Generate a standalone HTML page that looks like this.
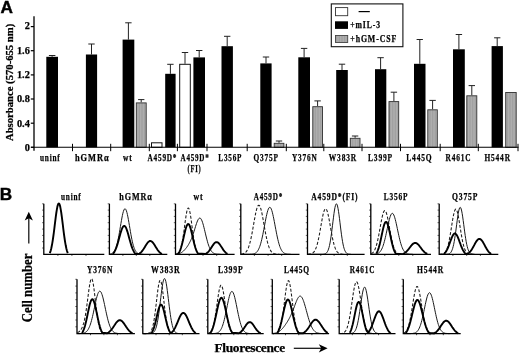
<!DOCTYPE html>
<html><head><meta charset="utf-8"><title>Figure</title>
<style>
html,body{margin:0;padding:0;background:#fff;}
body{width:520px;height:354px;overflow:hidden;}
svg{display:block;}
.s{font-family:"Liberation Serif",serif;font-weight:bold;fill:#000;stroke:#000;stroke-width:0.25px;}
.ls{letter-spacing:1.1px;}
.pl{font-family:"Liberation Sans",sans-serif;font-weight:bold;fill:#000;}
</style></head><body>
<svg width="520" height="354" viewBox="0 0 520 354">
<defs><pattern id="hatch" width="1.6" height="4" patternUnits="userSpaceOnUse"><rect width="1.6" height="4" fill="#b0b0b0"/><rect width="0.6" height="4" fill="#9a9a9a"/></pattern></defs>
<rect width="520" height="354" fill="#fff"/>
<text x="0.6" y="13.2" class="pl" font-size="17.2" stroke="#000" stroke-width="0.45">A</text>
<text x="-0.3" y="199.9" class="pl" font-size="17.2" stroke="#000" stroke-width="0.4">B</text>
<path d="M52.1 56.8V55.5M48.9 55.5H55.4" stroke="#222" stroke-width="1" fill="none"/>
<rect x="46.3" y="56.8" width="11.7" height="90.5" fill="#000"/>
<path d="M91.5 54.5V44.0M88.3 44.0H94.7" stroke="#222" stroke-width="1" fill="none"/>
<rect x="85.9" y="54.5" width="11.2" height="92.8" fill="#000"/>
<path d="M128.4 39.6V22.8M125.2 22.8H131.6" stroke="#222" stroke-width="1" fill="none"/>
<rect x="122.6" y="39.6" width="11.7" height="107.7" fill="#000"/>
<path d="M141.2 102.4V99.6M138.1 99.6H144.4" stroke="#222" stroke-width="1" fill="none"/>
<rect x="136.3" y="102.9" width="9.9" height="44.4" fill="url(#hatch)" stroke="#303030" stroke-width="0.9"/>
<rect x="151.5" y="142.8" width="10.5" height="4.5" fill="#fff" stroke="#111" stroke-width="1"/>
<path d="M170.4 73.8V64.3M167.2 64.3H173.6" stroke="#222" stroke-width="1" fill="none"/>
<rect x="165.2" y="73.8" width="10.4" height="73.5" fill="#000"/>
<path d="M185.0 63.8V52.5M181.8 52.5H188.2" stroke="#222" stroke-width="1" fill="none"/>
<rect x="179.7" y="64.3" width="10.6" height="83.0" fill="#fff" stroke="#111" stroke-width="1"/>
<path d="M199.2 57.4V50.5M196.0 50.5H202.4" stroke="#222" stroke-width="1" fill="none"/>
<rect x="193.4" y="57.4" width="11.6" height="89.9" fill="#000"/>
<path d="M227.2 46.2V36.3M224.0 36.3H230.4" stroke="#222" stroke-width="1" fill="none"/>
<rect x="221.5" y="46.2" width="11.4" height="101.1" fill="#000"/>
<path d="M266.0 63.4V57.0M262.8 57.0H269.2" stroke="#222" stroke-width="1" fill="none"/>
<rect x="260.3" y="63.4" width="11.3" height="83.9" fill="#000"/>
<path d="M279.0 142.8V141.0M275.8 141.0H282.2" stroke="#222" stroke-width="1" fill="none"/>
<rect x="274.2" y="143.3" width="9.7" height="4.0" fill="url(#hatch)" stroke="#303030" stroke-width="0.9"/>
<path d="M304.1 57.3V48.4M300.9 48.4H307.3" stroke="#222" stroke-width="1" fill="none"/>
<rect x="298.3" y="57.3" width="11.7" height="90.0" fill="#000"/>
<path d="M317.6 106.2V100.9M314.4 100.9H320.8" stroke="#222" stroke-width="1" fill="none"/>
<rect x="312.8" y="106.7" width="9.7" height="40.6" fill="url(#hatch)" stroke="#303030" stroke-width="0.9"/>
<path d="M342.0 70.0V64.2M338.8 64.2H345.2" stroke="#222" stroke-width="1" fill="none"/>
<rect x="336.2" y="70.0" width="11.6" height="77.3" fill="#000"/>
<path d="M355.1 137.8V136.0M351.9 136.0H358.3" stroke="#222" stroke-width="1" fill="none"/>
<rect x="350.3" y="138.3" width="9.7" height="9.0" fill="url(#hatch)" stroke="#303030" stroke-width="0.9"/>
<path d="M380.6 69.2V57.7M377.4 57.7H383.8" stroke="#222" stroke-width="1" fill="none"/>
<rect x="375.0" y="69.2" width="11.3" height="78.1" fill="#000"/>
<path d="M393.9 101.1V92.2M390.7 92.2H397.1" stroke="#222" stroke-width="1" fill="none"/>
<rect x="389.0" y="101.6" width="9.7" height="45.7" fill="url(#hatch)" stroke="#303030" stroke-width="0.9"/>
<path d="M419.8 63.8V39.5M416.6 39.5H422.9" stroke="#222" stroke-width="1" fill="none"/>
<rect x="414.0" y="63.8" width="11.5" height="83.5" fill="#000"/>
<path d="M432.6 109.3V100.4M429.4 100.4H435.8" stroke="#222" stroke-width="1" fill="none"/>
<rect x="427.8" y="109.8" width="9.5" height="37.5" fill="url(#hatch)" stroke="#303030" stroke-width="0.9"/>
<path d="M458.9 49.3V34.5M455.7 34.5H462.1" stroke="#222" stroke-width="1" fill="none"/>
<rect x="453.0" y="49.3" width="11.8" height="98.0" fill="#000"/>
<path d="M471.8 95.3V85.6M468.6 85.6H475.0" stroke="#222" stroke-width="1" fill="none"/>
<rect x="466.8" y="95.8" width="10.0" height="51.5" fill="url(#hatch)" stroke="#303030" stroke-width="0.9"/>
<path d="M497.2 46.1V37.8M494.1 37.8H500.4" stroke="#222" stroke-width="1" fill="none"/>
<rect x="491.6" y="46.1" width="11.3" height="101.2" fill="#000"/>
<rect x="505.7" y="92.5" width="10.5" height="54.8" fill="url(#hatch)" stroke="#303030" stroke-width="0.9"/>
<path d="M34.0 16.2V150.70000000000002" stroke="#222" stroke-width="1.5" fill="none"/><path d="M31.0 147.3H518.5" stroke="#000" stroke-width="1.05" fill="none"/>
<path d="M30.8 147.3H34.0" stroke="#000" stroke-width="1.2"/>
<text x="29.8" y="151.1" class="s" font-size="10.3" text-anchor="end">0</text>
<path d="M30.8 123.2H34.0" stroke="#000" stroke-width="1.2"/>
<text x="29.8" y="126.8" class="s" font-size="10.3" text-anchor="end">0.4</text>
<path d="M30.8 99.0H34.0" stroke="#000" stroke-width="1.2"/>
<text x="29.8" y="102.4" class="s" font-size="10.3" text-anchor="end">0.8</text>
<path d="M30.8 74.9H34.0" stroke="#000" stroke-width="1.2"/>
<text x="29.8" y="78.0" class="s" font-size="10.3" text-anchor="end">1.2</text>
<path d="M30.8 50.7H34.0" stroke="#000" stroke-width="1.2"/>
<text x="29.8" y="53.6" class="s" font-size="10.3" text-anchor="end">1.6</text>
<path d="M30.8 26.6H34.0" stroke="#000" stroke-width="1.2"/>
<text x="29.8" y="29.2" class="s" font-size="10.3" text-anchor="end">2</text>
<path d="M72.5 143.8V151.20000000000002" stroke="#000" stroke-width="1.0"/>
<path d="M110.7 143.8V151.20000000000002" stroke="#000" stroke-width="1.0"/>
<path d="M149.3 143.8V151.20000000000002" stroke="#000" stroke-width="1.0"/>
<path d="M177.4 143.8V151.20000000000002" stroke="#000" stroke-width="1.0"/>
<path d="M207.0 143.8V151.20000000000002" stroke="#000" stroke-width="1.0"/>
<path d="M247.2 143.8V151.20000000000002" stroke="#000" stroke-width="1.0"/>
<path d="M286.3 143.8V151.20000000000002" stroke="#000" stroke-width="1.0"/>
<path d="M323.8 143.8V151.20000000000002" stroke="#000" stroke-width="1.0"/>
<path d="M362.0 143.8V151.20000000000002" stroke="#000" stroke-width="1.0"/>
<path d="M400.5 143.8V151.20000000000002" stroke="#000" stroke-width="1.0"/>
<path d="M440.2 143.8V151.20000000000002" stroke="#000" stroke-width="1.0"/>
<path d="M478.3 143.8V151.20000000000002" stroke="#000" stroke-width="1.0"/>
<path d="M518.0 143.8V151.20000000000002" stroke="#000" stroke-width="1.0"/>
<text x="40" y="161.0" class="s ls" font-size="10" textLength="20.6" lengthAdjust="spacingAndGlyphs">uninf</text>
<text x="75" y="161.0" class="s ls" font-size="10" textLength="34.5" lengthAdjust="spacingAndGlyphs">hGMRα</text>
<text x="123" y="161.0" class="s ls" font-size="10" textLength="9.5" lengthAdjust="spacingAndGlyphs">wt</text>
<text x="147.5" y="161.3" class="s ls" font-size="10" textLength="29.8" lengthAdjust="spacingAndGlyphs">A459D*</text>
<text x="180.5" y="160.7" class="s ls" font-size="10" textLength="29.0" lengthAdjust="spacingAndGlyphs">A459D*</text>
<text x="187.5" y="171.8" class="s ls" font-size="10" textLength="13.8" lengthAdjust="spacingAndGlyphs">(FI)</text>
<text x="218.3" y="161.0" class="s ls" font-size="10" textLength="24.0" lengthAdjust="spacingAndGlyphs">L356P</text>
<text x="253.5" y="161.0" class="s ls" font-size="10" textLength="25.3" lengthAdjust="spacingAndGlyphs">Q375P</text>
<text x="292" y="161.0" class="s ls" font-size="10" textLength="25.5" lengthAdjust="spacingAndGlyphs">Y376N</text>
<text x="328.8" y="161.0" class="s ls" font-size="10" textLength="28.2" lengthAdjust="spacingAndGlyphs">W383R</text>
<text x="368" y="161.0" class="s ls" font-size="10" textLength="25.0" lengthAdjust="spacingAndGlyphs">L399P</text>
<text x="406.3" y="161.0" class="s ls" font-size="10" textLength="26.2" lengthAdjust="spacingAndGlyphs">L445Q</text>
<text x="445.5" y="161.0" class="s ls" font-size="10" textLength="25.8" lengthAdjust="spacingAndGlyphs">R461C</text>
<text x="484.5" y="161.0" class="s ls" font-size="10" textLength="26.3" lengthAdjust="spacingAndGlyphs">H544R</text>
<text transform="translate(13.2 141.0) rotate(-90)" class="s" font-size="10.9" textLength="117.2" lengthAdjust="spacingAndGlyphs">Absorbance (570-655 nm)</text>
<rect x="331.3" y="3.9" width="71.6" height="42.8" fill="#fff" stroke="#111" stroke-width="1.1"/>
<rect x="335.5" y="7.6" width="12.2" height="8.1" fill="#fff" stroke="#333" stroke-width="0.9"/>
<rect x="335" y="21.3" width="13" height="7.6" fill="#000"/>
<rect x="335.5" y="35.5" width="12.2" height="7" fill="url(#hatch)" stroke="#444" stroke-width="0.9"/>
<path d="M358.6 11.6H369.8" stroke="#000" stroke-width="1.2"/>
<text x="350.3" y="28.1" class="s ls" font-size="9.8" textLength="30.6" lengthAdjust="spacingAndGlyphs">+mIL-3</text>
<text x="350.3" y="41.9" class="s ls" font-size="9.8" textLength="46.8" lengthAdjust="spacingAndGlyphs">+hGM-CSF</text>
<path d="M43.8 248.0h-1.7" stroke="#000" stroke-width="0.6"/>
<path d="M43.8 241.7h-1.7" stroke="#000" stroke-width="0.6"/>
<path d="M43.8 235.4h-1.7" stroke="#000" stroke-width="0.6"/>
<path d="M43.8 229.1h-1.7" stroke="#000" stroke-width="0.6"/>
<path d="M43.8 222.7h-1.7" stroke="#000" stroke-width="0.6"/>
<path d="M43.8 216.4h-1.7" stroke="#000" stroke-width="0.6"/>
<path d="M43.8 210.1h-1.7" stroke="#000" stroke-width="0.6"/>
<path d="M43.8 203.8h-1.7" stroke="#000" stroke-width="0.6"/>
<path d="M57.9 254.3v1.6" stroke="#000" stroke-width="0.7"/>
<path d="M71.9 254.3v1.6" stroke="#000" stroke-width="0.7"/>
<path d="M86.0 254.3v1.6" stroke="#000" stroke-width="0.7"/>
<path d="M49.8 253.2 L50.3 251.9 L50.8 250.2 L51.3 248.2 L51.8 245.8 L52.3 243.1 L52.8 240.0 L53.3 236.5 L53.8 232.8 L54.3 228.8 L54.8 224.7 L55.3 220.6 L55.8 216.7 L56.3 213.0 L56.8 209.8 L57.3 207.1 L57.8 205.1 L58.3 203.8 L58.8 203.4 L59.3 203.8 L59.8 205.1 L60.3 207.1 L60.8 209.8 L61.3 213.0 L61.8 216.7 L62.3 220.6 L62.8 224.7 L63.3 228.8 L63.8 232.8 L64.3 236.5 L64.8 240.0 L65.3 243.1 L65.8 245.8 L66.3 248.2 L66.8 250.2 L67.3 251.9 L67.8 253.2" stroke="#000" stroke-width="1.9" fill="none" stroke-linejoin="round"/>
<path d="M43.8 203.8V254.3H104.3" stroke="#000" stroke-width="1.3" fill="none" stroke-linejoin="miter"/>
<text x="61.0" y="199.7" class="s ls" font-size="10" textLength="20.5" lengthAdjust="spacingAndGlyphs">uninf</text>
<path d="M109.4 248.0h-1.7" stroke="#000" stroke-width="0.6"/>
<path d="M109.4 241.7h-1.7" stroke="#000" stroke-width="0.6"/>
<path d="M109.4 235.4h-1.7" stroke="#000" stroke-width="0.6"/>
<path d="M109.4 229.1h-1.7" stroke="#000" stroke-width="0.6"/>
<path d="M109.4 222.7h-1.7" stroke="#000" stroke-width="0.6"/>
<path d="M109.4 216.4h-1.7" stroke="#000" stroke-width="0.6"/>
<path d="M109.4 210.1h-1.7" stroke="#000" stroke-width="0.6"/>
<path d="M109.4 203.8h-1.7" stroke="#000" stroke-width="0.6"/>
<path d="M122.9 254.3v1.6" stroke="#000" stroke-width="0.7"/>
<path d="M136.3 254.3v1.6" stroke="#000" stroke-width="0.7"/>
<path d="M149.8 254.3v1.6" stroke="#000" stroke-width="0.7"/>
<path d="M109.9 254.1 L110.4 254.0 L110.9 253.9 L111.4 253.7 L111.9 253.5 L112.4 253.2 L112.9 252.9 L113.4 252.4 L113.9 251.8 L114.4 251.1 L114.9 250.2 L115.4 249.1 L115.9 247.9 L116.4 246.4 L116.9 244.6 L117.4 242.7 L117.9 240.4 L118.4 238.0 L118.9 235.4 L119.4 232.6 L119.9 229.6 L120.4 226.6 L120.9 223.6 L121.4 220.7 L121.9 218.0 L122.4 215.4 L122.9 213.2 L123.4 211.4 L123.9 210.0 L124.4 209.1 L124.9 208.7 L125.4 208.9 L125.9 209.6 L126.4 210.8 L126.9 212.4 L127.4 214.5 L127.9 216.9 L128.4 219.6 L128.9 222.5 L129.4 225.4 L129.9 228.4 L130.4 231.4 L130.9 234.3 L131.4 237.0 L131.9 239.5 L132.4 241.8 L132.9 243.9 L133.4 245.7 L133.9 247.3 L134.4 248.6 L134.9 249.8 L135.4 250.8 L135.9 251.5 L136.4 252.2 L136.9 252.7 L137.4 253.1 L137.9 253.4 L138.4 253.6 L138.9 253.8 L139.4 254.0 L139.9 254.1 L140.4 254.1 L140.9 254.2 L141.4 254.2 L141.9 254.2 L142.4 254.3 L142.9 254.3 L143.4 254.3" stroke="#1a1a1a" stroke-width="1.0" fill="none"/>
<path d="M112.9 253.9 L113.4 253.3 L113.9 252.6 L114.4 251.9 L114.9 250.9 L115.4 249.9 L115.9 248.7 L116.4 247.4 L116.9 245.9 L117.4 244.4 L117.9 242.7 L118.4 240.9 L118.9 239.1 L119.4 237.2 L119.9 235.4 L120.4 233.6 L120.9 231.9 L121.4 230.4 L121.9 229.0 L122.4 227.8 L122.9 226.9 L123.4 226.3 L123.9 226.0 L124.4 225.9 L124.9 226.2 L125.4 226.8 L125.9 227.6 L126.4 228.7 L126.9 230.1 L127.4 231.6 L127.9 233.3 L128.4 235.0 L128.9 236.9 L129.4 238.7 L129.9 240.5 L130.4 242.3 L130.9 244.0 L131.4 245.6 L131.9 247.1 L132.4 248.5 L132.9 249.7 L133.4 250.7 L133.9 251.7 L134.4 252.5 L134.9 253.2 L135.4 253.8 L138.9 253.9 L139.4 253.6 L139.9 253.2 L140.4 252.8 L140.9 252.4 L141.4 251.9 L141.9 251.3 L142.4 250.7 L142.9 250.0 L143.4 249.3 L143.9 248.5 L144.4 247.7 L144.9 246.9 L145.4 246.1 L145.9 245.3 L146.4 244.5 L146.9 243.7 L147.4 243.0 L147.9 242.4 L148.4 241.9 L148.9 241.5 L149.4 241.2 L149.9 241.0 L150.4 241.0 L150.9 241.1 L151.4 241.3 L151.9 241.7 L152.4 242.1 L152.9 242.7 L153.4 243.3 L153.9 244.0 L154.4 244.8 L154.9 245.6 L155.4 246.4 L155.9 247.2 L156.4 248.0 L156.9 248.8 L157.4 249.6 L157.9 250.3 L158.4 250.9 L158.9 251.5 L159.4 252.1 L159.9 252.6 L160.4 253.0 L160.9 253.4 L161.4 253.7 L161.9 254.0" stroke="#000" stroke-width="1.9" fill="none" stroke-linejoin="round"/>
<path d="M109.4 203.8V254.3H167.3" stroke="#000" stroke-width="1.3" fill="none" stroke-linejoin="miter"/>
<text x="119.3" y="199.7" class="s ls" font-size="10" textLength="33.5" lengthAdjust="spacingAndGlyphs">hGMRα</text>
<path d="M175.5 248.0h-1.7" stroke="#000" stroke-width="0.6"/>
<path d="M175.5 241.7h-1.7" stroke="#000" stroke-width="0.6"/>
<path d="M175.5 235.4h-1.7" stroke="#000" stroke-width="0.6"/>
<path d="M175.5 229.1h-1.7" stroke="#000" stroke-width="0.6"/>
<path d="M175.5 222.7h-1.7" stroke="#000" stroke-width="0.6"/>
<path d="M175.5 216.4h-1.7" stroke="#000" stroke-width="0.6"/>
<path d="M175.5 210.1h-1.7" stroke="#000" stroke-width="0.6"/>
<path d="M175.5 203.8h-1.7" stroke="#000" stroke-width="0.6"/>
<path d="M189.2 254.3v1.6" stroke="#000" stroke-width="0.7"/>
<path d="M203.0 254.3v1.6" stroke="#000" stroke-width="0.7"/>
<path d="M216.7 254.3v1.6" stroke="#000" stroke-width="0.7"/>
<path d="M176.0 254.1 L176.5 254.0 L177.0 253.9 L177.5 253.6 L178.0 253.3 L178.5 252.9 L179.0 252.3 L179.5 251.6 L180.0 250.6 L180.5 249.3 L181.0 247.7 L181.5 245.7 L182.0 243.4 L182.5 240.7 L183.0 237.7 L183.5 234.3 L184.0 230.7 L184.5 226.9 L185.0 223.1 L185.5 219.5 L186.0 216.1 L186.5 213.1 L187.0 210.7 L187.5 209.0 L188.0 208.1 L188.5 208.0 L189.0 208.7 L189.5 210.3 L190.0 212.5 L190.5 215.4 L191.0 218.7 L191.5 222.4 L192.0 226.2 L192.5 229.9 L193.0 233.6 L193.5 237.0 L194.0 240.1 L194.5 242.9 L195.0 245.3 L195.5 247.3 L196.0 249.0 L196.5 250.3 L197.0 251.4 L197.5 252.2 L198.0 252.8 L198.5 253.3 L199.0 253.6 L199.5 253.8 L200.0 254.0 L200.5 254.1 L201.0 254.2 L201.5 254.2 L202.0 254.3 L202.5 254.3 L203.0 254.3" stroke="#1a1a1a" stroke-width="1.05" stroke-dasharray="3 1.8" fill="none"/>
<path d="M176.0 254.1 L176.5 254.1 L177.0 254.0 L177.5 254.0 L178.0 253.9 L178.5 253.8 L179.0 253.6 L179.5 253.5 L180.0 253.3 L180.5 253.1 L181.0 252.8 L181.5 252.5 L182.0 252.2 L182.5 251.8 L183.0 251.4 L183.5 251.0 L184.0 250.5 L184.5 250.0 L185.0 249.4 L185.5 248.8 L186.0 248.2 L186.5 247.6 L187.0 246.9 L187.5 246.1 L188.0 245.4 L188.5 244.6 L189.0 243.7 L189.5 242.8 L190.0 241.8 L190.5 240.8 L191.0 239.7 L191.5 238.5 L192.0 237.3 L192.5 235.9 L193.0 234.5 L193.5 233.0 L194.0 231.5 L194.5 229.9 L195.0 228.2 L195.5 226.6 L196.0 225.0 L196.5 223.5 L197.0 222.1 L197.5 220.9 L198.0 219.8 L198.5 219.0 L199.0 218.4 L199.5 218.1 L200.0 218.1 L200.5 218.3 L201.0 218.9 L201.5 219.8 L202.0 220.9 L202.5 222.3 L203.0 223.9 L203.5 225.7 L204.0 227.7 L204.5 229.7 L205.0 231.8 L205.5 233.9 L206.0 236.0 L206.5 238.0 L207.0 239.9 L207.5 241.8 L208.0 243.5 L208.5 245.0 L209.0 246.4 L209.5 247.7 L210.0 248.8 L210.5 249.8 L211.0 250.6 L211.5 251.3 L212.0 251.9 L212.5 252.4 L213.0 252.8 L213.5 253.1 L214.0 253.4 L214.5 253.6 L215.0 253.8 L215.5 253.9 L216.0 254.0 L216.5 254.1 L217.0 254.1 L217.5 254.2 L218.0 254.2 L218.5 254.2 L219.0 254.3 L219.5 254.3 L220.0 254.3 L220.5 254.3" stroke="#1a1a1a" stroke-width="1.0" fill="none"/>
<path d="M178.0 254.0 L178.5 253.4 L179.0 252.6 L179.5 251.7 L180.0 250.6 L180.5 249.3 L181.0 247.8 L181.5 246.1 L182.0 244.3 L182.5 242.3 L183.0 240.2 L183.5 238.0 L184.0 235.8 L184.5 233.6 L185.0 231.5 L185.5 229.5 L186.0 227.8 L186.5 226.3 L187.0 225.2 L187.5 224.4 L188.0 224.0 L188.5 224.1 L189.0 224.5 L189.5 225.4 L190.0 226.6 L190.5 228.1 L191.0 229.9 L191.5 231.9 L192.0 234.0 L192.5 236.2 L193.0 238.5 L193.5 240.6 L194.0 242.7 L194.5 244.7 L195.0 246.5 L195.5 248.1 L196.0 249.5 L196.5 250.8 L197.0 251.9 L197.5 252.8 L198.0 253.5 L205.5 254.0 L206.0 253.7 L206.5 253.4 L207.0 253.0 L207.5 252.6 L208.0 252.1 L208.5 251.6 L209.0 251.0 L209.5 250.3 L210.0 249.6 L210.5 248.9 L211.0 248.1 L211.5 247.4 L212.0 246.6 L212.5 245.8 L213.0 245.1 L213.5 244.4 L214.0 243.7 L214.5 243.2 L215.0 242.7 L215.5 242.4 L216.0 242.2 L216.5 242.1 L217.0 242.1 L217.5 242.3 L218.0 242.6 L218.5 243.0 L219.0 243.5 L219.5 244.1 L220.0 244.8 L220.5 245.5 L221.0 246.3 L221.5 247.0 L222.0 247.8 L222.5 248.6 L223.0 249.4 L223.5 250.1 L224.0 250.7 L224.5 251.4 L225.0 251.9 L225.5 252.4 L226.0 252.9 L226.5 253.3 L227.0 253.6 L227.5 253.9" stroke="#000" stroke-width="1.9" fill="none" stroke-linejoin="round"/>
<path d="M175.5 203.8V254.3H234.6" stroke="#000" stroke-width="1.3" fill="none" stroke-linejoin="miter"/>
<text x="193.5" y="199.7" class="s ls" font-size="10" textLength="10.0" lengthAdjust="spacingAndGlyphs">wt</text>
<path d="M240.8 248.0h-1.7" stroke="#000" stroke-width="0.6"/>
<path d="M240.8 241.7h-1.7" stroke="#000" stroke-width="0.6"/>
<path d="M240.8 235.4h-1.7" stroke="#000" stroke-width="0.6"/>
<path d="M240.8 229.1h-1.7" stroke="#000" stroke-width="0.6"/>
<path d="M240.8 222.7h-1.7" stroke="#000" stroke-width="0.6"/>
<path d="M240.8 216.4h-1.7" stroke="#000" stroke-width="0.6"/>
<path d="M240.8 210.1h-1.7" stroke="#000" stroke-width="0.6"/>
<path d="M240.8 203.8h-1.7" stroke="#000" stroke-width="0.6"/>
<path d="M254.4 254.3v1.6" stroke="#000" stroke-width="0.7"/>
<path d="M268.1 254.3v1.6" stroke="#000" stroke-width="0.7"/>
<path d="M281.7 254.3v1.6" stroke="#000" stroke-width="0.7"/>
<path d="M241.3 254.1 L241.8 254.1 L242.3 254.0 L242.8 253.9 L243.3 253.7 L243.8 253.5 L244.3 253.3 L244.8 253.0 L245.3 252.6 L245.8 252.1 L246.3 251.6 L246.8 250.9 L247.3 250.0 L247.8 249.1 L248.3 247.9 L248.8 246.6 L249.3 245.0 L249.8 243.3 L250.3 241.4 L250.8 239.3 L251.3 236.9 L251.8 234.5 L252.3 231.8 L252.8 229.1 L253.3 226.2 L253.8 223.4 L254.3 220.5 L254.8 217.8 L255.3 215.2 L255.8 212.7 L256.3 210.6 L256.8 208.7 L257.3 207.2 L257.8 206.1 L258.3 205.4 L258.8 205.2 L259.3 205.4 L259.8 206.1 L260.3 207.2 L260.8 208.7 L261.3 210.6 L261.8 212.7 L262.3 215.2 L262.8 217.8 L263.3 220.5 L263.8 223.4 L264.3 226.2 L264.8 229.1 L265.3 231.8 L265.8 234.5 L266.3 236.9 L266.8 239.3 L267.3 241.4 L267.8 243.3 L268.3 245.0 L268.8 246.6 L269.3 247.9 L269.8 249.1 L270.3 250.0 L270.8 250.9 L271.3 251.6 L271.8 252.1 L272.3 252.6 L272.8 253.0 L273.3 253.3 L273.8 253.5 L274.3 253.7 L274.8 253.9 L275.3 254.0 L275.8 254.1 L276.3 254.1 L276.8 254.2 L277.3 254.2 L277.8 254.2 L278.3 254.3 L278.8 254.3 L279.3 254.3" stroke="#1a1a1a" stroke-width="1.05" stroke-dasharray="3 1.8" fill="none"/>
<path d="M241.3 254.3 L241.8 254.3 L242.3 254.3 L242.8 254.3 L243.3 254.3 L243.8 254.3 L244.3 254.3 L244.8 254.3 L245.3 254.3 L245.8 254.3 L246.3 254.3 L246.8 254.3 L247.3 254.3 L247.8 254.3 L248.3 254.3 L248.8 254.3 L249.3 254.3 L249.8 254.3 L250.3 254.2 L250.8 254.2 L251.3 254.2 L251.8 254.2 L252.3 254.1 L252.8 254.0 L253.3 253.9 L253.8 253.8 L254.3 253.6 L254.8 253.4 L255.3 253.2 L255.8 252.9 L256.3 252.5 L256.8 252.0 L257.3 251.4 L257.8 250.7 L258.3 249.8 L258.8 248.8 L259.3 247.7 L259.8 246.4 L260.3 244.9 L260.8 243.2 L261.3 241.3 L261.8 239.3 L262.3 237.0 L262.8 234.7 L263.3 232.1 L263.8 229.5 L264.3 226.9 L264.8 224.2 L265.3 221.5 L265.8 218.9 L266.3 216.5 L266.8 214.3 L267.3 212.2 L267.8 210.5 L268.3 209.1 L268.8 208.1 L269.3 207.5 L269.8 207.3 L270.3 207.5 L270.8 208.1 L271.3 209.1 L271.8 210.5 L272.3 212.2 L272.8 214.3 L273.3 216.5 L273.8 218.9 L274.3 221.5 L274.8 224.2 L275.3 226.9 L275.8 229.5 L276.3 232.1 L276.8 234.7 L277.3 237.0 L277.8 239.3 L278.3 241.3 L278.8 243.2 L279.3 244.9 L279.8 246.4 L280.3 247.7 L280.8 248.8 L281.3 249.8 L281.8 250.7 L282.3 251.4 L282.8 252.0 L283.3 252.5 L283.8 252.9 L284.3 253.2 L284.8 253.4 L285.3 253.6 L285.8 253.8 L286.3 253.9 L286.8 254.0 L287.3 254.1 L287.8 254.2 L288.3 254.2 L288.8 254.2 L289.3 254.2 L289.8 254.3 L290.3 254.3 L290.8 254.3" stroke="#1a1a1a" stroke-width="1.0" fill="none"/>
<path d="M240.8 203.8V254.3H299.5" stroke="#000" stroke-width="1.3" fill="none" stroke-linejoin="miter"/>
<text x="253.7" y="199.7" class="s ls" font-size="10" textLength="29.3" lengthAdjust="spacingAndGlyphs">A459D*</text>
<path d="M307.5 248.0h-1.7" stroke="#000" stroke-width="0.6"/>
<path d="M307.5 241.7h-1.7" stroke="#000" stroke-width="0.6"/>
<path d="M307.5 235.4h-1.7" stroke="#000" stroke-width="0.6"/>
<path d="M307.5 229.1h-1.7" stroke="#000" stroke-width="0.6"/>
<path d="M307.5 222.7h-1.7" stroke="#000" stroke-width="0.6"/>
<path d="M307.5 216.4h-1.7" stroke="#000" stroke-width="0.6"/>
<path d="M307.5 210.1h-1.7" stroke="#000" stroke-width="0.6"/>
<path d="M307.5 203.8h-1.7" stroke="#000" stroke-width="0.6"/>
<path d="M320.8 254.3v1.6" stroke="#000" stroke-width="0.7"/>
<path d="M334.1 254.3v1.6" stroke="#000" stroke-width="0.7"/>
<path d="M347.3 254.3v1.6" stroke="#000" stroke-width="0.7"/>
<path d="M308.0 254.2 L308.5 254.2 L309.0 254.2 L309.5 254.1 L310.0 254.1 L310.5 254.0 L311.0 253.9 L311.5 253.7 L312.0 253.5 L312.5 253.2 L313.0 252.8 L313.5 252.4 L314.0 251.8 L314.5 251.2 L315.0 250.3 L315.5 249.3 L316.0 248.1 L316.5 246.7 L317.0 245.1 L317.5 243.3 L318.0 241.3 L318.5 239.0 L319.0 236.6 L319.5 234.0 L320.0 231.2 L320.5 228.4 L321.0 225.5 L321.5 222.6 L322.0 219.9 L322.5 217.3 L323.0 214.9 L323.5 212.9 L324.0 211.2 L324.5 209.9 L325.0 209.1 L325.5 208.7 L326.0 208.9 L326.5 209.5 L327.0 210.6 L327.5 212.1 L328.0 214.1 L328.5 216.3 L329.0 218.8 L329.5 221.5 L330.0 224.3 L330.5 227.2 L331.0 230.1 L331.5 232.9 L332.0 235.6 L332.5 238.1 L333.0 240.4 L333.5 242.5 L334.0 244.4 L334.5 246.1 L335.0 247.6 L335.5 248.9 L336.0 249.9 L336.5 250.8 L337.0 251.6 L337.5 252.2 L338.0 252.7 L338.5 253.1 L339.0 253.4 L339.5 253.6 L340.0 253.8 L340.5 253.9 L341.0 254.0 L341.5 254.1 L342.0 254.2 L342.5 254.2 L343.0 254.2 L343.5 254.3 L344.0 254.3 L344.5 254.3" stroke="#1a1a1a" stroke-width="1.05" stroke-dasharray="3 1.8" fill="none"/>
<path d="M308.0 254.3 L308.5 254.3 L309.0 254.3 L309.5 254.3 L310.0 254.3 L310.5 254.3 L311.0 254.3 L311.5 254.3 L312.0 254.3 L312.5 254.3 L313.0 254.3 L313.5 254.3 L314.0 254.3 L314.5 254.3 L315.0 254.3 L315.5 254.3 L316.0 254.3 L316.5 254.3 L317.0 254.3 L317.5 254.3 L318.0 254.3 L318.5 254.3 L319.0 254.3 L319.5 254.3 L320.0 254.3 L320.5 254.3 L321.0 254.3 L321.5 254.3 L322.0 254.3 L322.5 254.3 L323.0 254.2 L323.5 254.2 L324.0 254.1 L324.5 254.0 L325.0 253.9 L325.5 253.6 L326.0 253.3 L326.5 252.9 L327.0 252.3 L327.5 251.5 L328.0 250.5 L328.5 249.1 L329.0 247.5 L329.5 245.4 L330.0 243.0 L330.5 240.1 L331.0 236.9 L331.5 233.3 L332.0 229.4 L332.5 225.3 L333.0 221.2 L333.5 217.2 L334.0 213.4 L334.5 210.0 L335.0 207.3 L335.5 205.3 L336.0 204.1 L336.5 203.8 L337.0 204.5 L337.5 206.0 L338.0 208.3 L338.5 211.3 L339.0 214.8 L339.5 218.7 L340.0 222.8 L340.5 227.0 L341.0 231.0 L341.5 234.8 L342.0 238.2 L342.5 241.3 L343.0 244.0 L343.5 246.3 L344.0 248.2 L344.5 249.7 L345.0 250.9 L345.5 251.8 L346.0 252.6 L346.5 253.1 L347.0 253.5 L347.5 253.7 L348.0 253.9 L348.5 254.1 L349.0 254.1 L349.5 254.2 L350.0 254.2 L350.5 254.3 L351.0 254.3" stroke="#1a1a1a" stroke-width="1.0" fill="none"/>
<path d="M307.5 203.8V254.3H364.6" stroke="#000" stroke-width="1.3" fill="none" stroke-linejoin="miter"/>
<text x="311.2" y="199.7" class="s ls" font-size="10" textLength="47.2" lengthAdjust="spacingAndGlyphs">A459D*(FI)</text>
<path d="M370.8 248.0h-1.7" stroke="#000" stroke-width="0.6"/>
<path d="M370.8 241.7h-1.7" stroke="#000" stroke-width="0.6"/>
<path d="M370.8 235.4h-1.7" stroke="#000" stroke-width="0.6"/>
<path d="M370.8 229.1h-1.7" stroke="#000" stroke-width="0.6"/>
<path d="M370.8 222.7h-1.7" stroke="#000" stroke-width="0.6"/>
<path d="M370.8 216.4h-1.7" stroke="#000" stroke-width="0.6"/>
<path d="M370.8 210.1h-1.7" stroke="#000" stroke-width="0.6"/>
<path d="M370.8 203.8h-1.7" stroke="#000" stroke-width="0.6"/>
<path d="M384.8 254.3v1.6" stroke="#000" stroke-width="0.7"/>
<path d="M398.8 254.3v1.6" stroke="#000" stroke-width="0.7"/>
<path d="M412.8 254.3v1.6" stroke="#000" stroke-width="0.7"/>
<path d="M371.3 253.6 L371.8 253.3 L372.3 253.0 L372.8 252.6 L373.3 252.1 L373.8 251.5 L374.3 250.7 L374.8 249.8 L375.3 248.6 L375.8 247.3 L376.3 245.8 L376.8 244.0 L377.3 242.1 L377.8 239.9 L378.3 237.5 L378.8 235.0 L379.3 232.3 L379.8 229.5 L380.3 226.7 L380.8 223.9 L381.3 221.2 L381.8 218.7 L382.3 216.4 L382.8 214.4 L383.3 212.8 L383.8 211.6 L384.3 210.8 L384.8 210.6 L385.3 210.8 L385.8 211.6 L386.3 212.8 L386.8 214.4 L387.3 216.4 L387.8 218.7 L388.3 221.2 L388.8 223.9 L389.3 226.7 L389.8 229.5 L390.3 232.3 L390.8 235.0 L391.3 237.5 L391.8 239.9 L392.3 242.1 L392.8 244.0 L393.3 245.8 L393.8 247.3 L394.3 248.6 L394.8 249.8 L395.3 250.7 L395.8 251.5 L396.3 252.1 L396.8 252.6 L397.3 253.0 L397.8 253.3 L398.3 253.6 L398.8 253.8 L399.3 253.9 L399.8 254.0 L400.3 254.1 L400.8 254.2 L401.3 254.2 L401.8 254.2 L402.3 254.3 L402.8 254.3 L403.3 254.3" stroke="#1a1a1a" stroke-width="1.05" stroke-dasharray="3 1.8" fill="none"/>
<path d="M371.3 254.3 L371.8 254.3 L372.3 254.3 L372.8 254.3 L373.3 254.2 L373.8 254.2 L374.3 254.2 L374.8 254.2 L375.3 254.1 L375.8 254.0 L376.3 253.9 L376.8 253.8 L377.3 253.7 L377.8 253.5 L378.3 253.2 L378.8 252.9 L379.3 252.5 L379.8 252.0 L380.3 251.4 L380.8 250.7 L381.3 249.9 L381.8 249.0 L382.3 247.8 L382.8 246.6 L383.3 245.1 L383.8 243.5 L384.3 241.7 L384.8 239.8 L385.3 237.7 L385.8 235.5 L386.3 233.2 L386.8 230.9 L387.3 228.5 L387.8 226.1 L388.3 223.8 L388.8 221.6 L389.3 219.6 L389.8 217.8 L390.3 216.2 L390.8 215.0 L391.3 214.1 L391.8 213.5 L392.3 213.3 L392.8 213.5 L393.3 214.1 L393.8 215.0 L394.3 216.2 L394.8 217.8 L395.3 219.6 L395.8 221.6 L396.3 223.8 L396.8 226.1 L397.3 228.5 L397.8 230.9 L398.3 233.2 L398.8 235.5 L399.3 237.7 L399.8 239.8 L400.3 241.7 L400.8 243.5 L401.3 245.1 L401.8 246.6 L402.3 247.8 L402.8 249.0 L403.3 249.9 L403.8 250.7 L404.3 251.4 L404.8 252.0 L405.3 252.5 L405.8 252.9 L406.3 253.2 L406.8 253.5 L407.3 253.7 L407.8 253.8 L408.3 253.9 L408.8 254.0 L409.3 254.1 L409.8 254.2 L410.3 254.2 L410.8 254.2 L411.3 254.2 L411.8 254.3 L412.3 254.3 L412.8 254.3" stroke="#1a1a1a" stroke-width="1.0" fill="none"/>
<path d="M376.3 253.5 L376.8 252.7 L377.3 251.7 L377.8 250.5 L378.3 249.2 L378.8 247.6 L379.3 245.8 L379.8 243.9 L380.3 241.8 L380.8 239.5 L381.3 237.1 L381.8 234.7 L382.3 232.4 L382.8 230.1 L383.3 227.9 L383.8 226.0 L384.3 224.4 L384.8 223.2 L385.3 222.3 L385.8 221.9 L386.3 222.0 L386.8 222.5 L387.3 223.4 L387.8 224.7 L388.3 226.4 L388.8 228.3 L389.3 230.5 L389.8 232.8 L390.3 235.2 L390.8 237.6 L391.3 240.0 L391.8 242.2 L392.3 244.3 L392.8 246.2 L393.3 247.9 L393.8 249.5 L394.3 250.8 L394.8 251.9 L395.3 252.9 L395.8 253.6 L402.8 254.1 L403.3 253.9 L403.8 253.6 L404.3 253.3 L404.8 253.0 L405.3 252.6 L405.8 252.2 L406.3 251.8 L406.8 251.2 L407.3 250.7 L407.8 250.1 L408.3 249.5 L408.8 248.9 L409.3 248.2 L409.8 247.5 L410.3 246.9 L410.8 246.2 L411.3 245.6 L411.8 245.0 L412.3 244.5 L412.8 244.0 L413.3 243.6 L413.8 243.3 L414.3 243.1 L414.8 242.9 L415.3 242.9 L415.8 243.0 L416.3 243.1 L416.8 243.4 L417.3 243.8 L417.8 244.2 L418.3 244.7 L418.8 245.2 L419.3 245.8 L419.8 246.5 L420.3 247.1 L420.8 247.8 L421.3 248.5 L421.8 249.1 L422.3 249.8 L422.8 250.4 L423.3 250.9 L423.8 251.5 L424.3 251.9 L424.8 252.4 L425.3 252.8 L425.8 253.1 L426.3 253.4 L426.8 253.7 L427.3 253.9" stroke="#000" stroke-width="1.9" fill="none" stroke-linejoin="round"/>
<path d="M370.8 203.8V254.3H431.0" stroke="#000" stroke-width="1.3" fill="none" stroke-linejoin="miter"/>
<text x="383.7" y="199.7" class="s ls" font-size="10" textLength="24.6" lengthAdjust="spacingAndGlyphs">L356P</text>
<path d="M439.2 248.0h-1.7" stroke="#000" stroke-width="0.6"/>
<path d="M439.2 241.7h-1.7" stroke="#000" stroke-width="0.6"/>
<path d="M439.2 235.4h-1.7" stroke="#000" stroke-width="0.6"/>
<path d="M439.2 229.1h-1.7" stroke="#000" stroke-width="0.6"/>
<path d="M439.2 222.7h-1.7" stroke="#000" stroke-width="0.6"/>
<path d="M439.2 216.4h-1.7" stroke="#000" stroke-width="0.6"/>
<path d="M439.2 210.1h-1.7" stroke="#000" stroke-width="0.6"/>
<path d="M439.2 203.8h-1.7" stroke="#000" stroke-width="0.6"/>
<path d="M452.9 254.3v1.6" stroke="#000" stroke-width="0.7"/>
<path d="M466.7 254.3v1.6" stroke="#000" stroke-width="0.7"/>
<path d="M480.4 254.3v1.6" stroke="#000" stroke-width="0.7"/>
<path d="M439.7 254.3 L440.2 254.2 L440.7 254.2 L441.2 254.2 L441.7 254.1 L442.2 254.0 L442.7 253.9 L443.2 253.7 L443.7 253.4 L444.2 253.1 L444.7 252.7 L445.2 252.1 L445.7 251.4 L446.2 250.6 L446.7 249.5 L447.2 248.2 L447.7 246.7 L448.2 244.8 L448.7 242.8 L449.2 240.4 L449.7 237.8 L450.2 235.0 L450.7 232.0 L451.2 228.9 L451.7 225.7 L452.2 222.5 L452.7 219.5 L453.2 216.7 L453.7 214.3 L454.2 212.2 L454.7 210.7 L455.2 209.6 L455.7 209.2 L456.2 209.4 L456.7 210.2 L457.2 211.5 L457.7 213.4 L458.2 215.7 L458.7 218.4 L459.2 221.3 L459.7 224.4 L460.2 227.6 L460.7 230.7 L461.2 233.8 L461.7 236.7 L462.2 239.4 L462.7 241.9 L463.2 244.0 L463.7 246.0 L464.2 247.6 L464.7 249.0 L465.2 250.2 L465.7 251.1 L466.2 251.9 L466.7 252.5 L467.2 253.0 L467.7 253.3 L468.2 253.6 L468.7 253.8 L469.2 253.9 L469.7 254.1 L470.2 254.1 L470.7 254.2 L471.2 254.2 L471.7 254.3 L472.2 254.3 L472.7 254.3" stroke="#1a1a1a" stroke-width="1.05" stroke-dasharray="3 1.8" fill="none"/>
<path d="M439.7 254.3 L440.2 254.3 L440.7 254.3 L441.2 254.3 L441.7 254.3 L442.2 254.3 L442.7 254.3 L443.2 254.3 L443.7 254.3 L444.2 254.3 L444.7 254.3 L445.2 254.3 L445.7 254.3 L446.2 254.3 L446.7 254.2 L447.2 254.2 L447.7 254.1 L448.2 254.1 L448.7 253.9 L449.2 253.7 L449.7 253.5 L450.2 253.1 L450.7 252.6 L451.2 251.9 L451.7 250.9 L452.2 249.8 L452.7 248.3 L453.2 246.4 L453.7 244.3 L454.2 241.7 L454.7 238.7 L455.2 235.4 L455.7 231.9 L456.2 228.1 L456.7 224.3 L457.2 220.5 L457.7 216.9 L458.2 213.7 L458.7 211.0 L459.2 209.0 L459.7 207.7 L460.2 207.3 L460.7 207.7 L461.2 209.0 L461.7 211.0 L462.2 213.7 L462.7 216.9 L463.2 220.5 L463.7 224.3 L464.2 228.1 L464.7 231.9 L465.2 235.4 L465.7 238.7 L466.2 241.7 L466.7 244.3 L467.2 246.4 L467.7 248.3 L468.2 249.8 L468.7 250.9 L469.2 251.9 L469.7 252.6 L470.2 253.1 L470.7 253.5 L471.2 253.7 L471.7 253.9 L472.2 254.1 L472.7 254.1 L473.2 254.2 L473.7 254.2 L474.2 254.3 L474.7 254.3" stroke="#1a1a1a" stroke-width="1.0" fill="none"/>
<path d="M443.7 254.1 L444.2 253.7 L444.7 253.2 L445.2 252.6 L445.7 252.0 L446.2 251.2 L446.7 250.3 L447.2 249.4 L447.7 248.3 L448.2 247.1 L448.7 245.9 L449.2 244.5 L449.7 243.2 L450.2 241.8 L450.7 240.4 L451.2 239.1 L451.7 237.8 L452.2 236.7 L452.7 235.7 L453.2 234.8 L453.7 234.2 L454.2 233.7 L454.7 233.5 L455.2 233.5 L455.7 233.8 L456.2 234.3 L456.7 235.0 L457.2 235.9 L457.7 236.9 L458.2 238.1 L458.7 239.3 L459.2 240.7 L459.7 242.1 L460.2 243.4 L460.7 244.8 L461.2 246.1 L461.7 247.3 L462.2 248.5 L462.7 249.6 L463.2 250.5 L463.7 251.4 L464.2 252.1 L464.7 252.8 L465.2 253.3 L465.7 253.8 L467.7 253.9 L468.2 253.5 L468.7 253.1 L469.2 252.7 L469.7 252.2 L470.2 251.7 L470.7 251.0 L471.2 250.3 L471.7 249.6 L472.2 248.8 L472.7 247.9 L473.2 247.0 L473.7 246.1 L474.2 245.2 L474.7 244.2 L475.2 243.3 L475.7 242.4 L476.2 241.6 L476.7 240.9 L477.2 240.3 L477.7 239.7 L478.2 239.3 L478.7 239.0 L479.2 238.9 L479.7 238.9 L480.2 239.1 L480.7 239.4 L481.2 239.8 L481.7 240.4 L482.2 241.0 L482.7 241.8 L483.2 242.6 L483.7 243.5 L484.2 244.4 L484.7 245.3 L485.2 246.3 L485.7 247.2 L486.2 248.1 L486.7 248.9 L487.2 249.7 L487.7 250.5 L488.2 251.2 L488.7 251.8 L489.2 252.3 L489.7 252.8 L490.2 253.2 L490.7 253.6 L491.2 253.9" stroke="#000" stroke-width="1.9" fill="none" stroke-linejoin="round"/>
<path d="M439.2 203.8V254.3H498.3" stroke="#000" stroke-width="1.3" fill="none" stroke-linejoin="miter"/>
<text x="452.0" y="199.7" class="s ls" font-size="10" textLength="26.3" lengthAdjust="spacingAndGlyphs">Q375P</text>
<path d="M77.0 326.8h-1.7" stroke="#000" stroke-width="0.6"/>
<path d="M77.0 320.0h-1.7" stroke="#000" stroke-width="0.6"/>
<path d="M77.0 313.2h-1.7" stroke="#000" stroke-width="0.6"/>
<path d="M77.0 306.5h-1.7" stroke="#000" stroke-width="0.6"/>
<path d="M77.0 299.7h-1.7" stroke="#000" stroke-width="0.6"/>
<path d="M77.0 292.9h-1.7" stroke="#000" stroke-width="0.6"/>
<path d="M77.0 286.1h-1.7" stroke="#000" stroke-width="0.6"/>
<path d="M77.0 279.3h-1.7" stroke="#000" stroke-width="0.6"/>
<path d="M90.5 333.6v1.6" stroke="#000" stroke-width="0.7"/>
<path d="M103.9 333.6v1.6" stroke="#000" stroke-width="0.7"/>
<path d="M117.4 333.6v1.6" stroke="#000" stroke-width="0.7"/>
<path d="M77.5 332.7 L78.0 332.4 L78.5 332.1 L79.0 331.8 L79.5 331.3 L80.0 330.8 L80.5 330.2 L81.0 329.5 L81.5 328.7 L82.0 327.7 L82.5 326.6 L83.0 325.3 L83.5 323.7 L84.0 321.9 L84.5 319.8 L85.0 317.3 L85.5 314.6 L86.0 311.5 L86.5 308.1 L87.0 304.5 L87.5 300.6 L88.0 296.7 L88.5 292.8 L89.0 289.1 L89.5 285.7 L90.0 282.9 L90.5 280.6 L91.0 279.2 L91.5 278.7 L92.0 279.0 L92.5 280.3 L93.0 282.5 L93.5 285.4 L94.0 289.0 L94.5 293.0 L95.0 297.3 L95.5 301.8 L96.0 306.2 L96.5 310.4 L97.0 314.3 L97.5 317.9 L98.0 321.0 L98.5 323.7 L99.0 325.9 L99.5 327.8 L100.0 329.2 L100.5 330.4 L101.0 331.3 L101.5 332.0 L102.0 332.4 L102.5 332.8 L103.0 333.1 L103.5 333.2 L104.0 333.4 L104.5 333.4 L105.0 333.5 L105.5 333.5 L106.0 333.6" stroke="#1a1a1a" stroke-width="1.05" stroke-dasharray="3 1.8" fill="none"/>
<path d="M77.5 333.6 L78.0 333.6 L78.5 333.6 L79.0 333.6 L79.5 333.6 L80.0 333.5 L80.5 333.5 L81.0 333.5 L81.5 333.5 L82.0 333.4 L82.5 333.3 L83.0 333.3 L83.5 333.2 L84.0 333.0 L84.5 332.8 L85.0 332.6 L85.5 332.3 L86.0 332.0 L86.5 331.6 L87.0 331.0 L87.5 330.4 L88.0 329.7 L88.5 328.8 L89.0 327.8 L89.5 326.7 L90.0 325.4 L90.5 324.0 L91.0 322.3 L91.5 320.6 L92.0 318.6 L92.5 316.6 L93.0 314.4 L93.5 312.1 L94.0 309.7 L94.5 307.3 L95.0 305.0 L95.5 302.6 L96.0 300.4 L96.5 298.3 L97.0 296.4 L97.5 294.8 L98.0 293.4 L98.5 292.3 L99.0 291.6 L99.5 291.2 L100.0 291.1 L100.5 291.5 L101.0 292.1 L101.5 293.2 L102.0 294.5 L102.5 296.1 L103.0 297.9 L103.5 300.0 L104.0 302.2 L104.5 304.5 L105.0 306.9 L105.5 309.3 L106.0 311.6 L106.5 313.9 L107.0 316.1 L107.5 318.2 L108.0 320.2 L108.5 322.0 L109.0 323.6 L109.5 325.1 L110.0 326.5 L110.5 327.6 L111.0 328.7 L111.5 329.5 L112.0 330.3 L112.5 330.9 L113.0 331.5 L113.5 331.9 L114.0 332.3 L114.5 332.6 L115.0 332.8 L115.5 333.0 L116.0 333.1 L116.5 333.2 L117.0 333.3 L117.5 333.4 L118.0 333.5 L118.5 333.5 L119.0 333.5 L119.5 333.5 L120.0 333.6 L120.5 333.6 L121.0 333.6" stroke="#1a1a1a" stroke-width="1.0" fill="none"/>
<path d="M82.0 333.0 L82.5 332.2 L83.0 331.3 L83.5 330.2 L84.0 328.9 L84.5 327.4 L85.0 325.7 L85.5 323.8 L86.0 321.8 L86.5 319.6 L87.0 317.2 L87.5 314.8 L88.0 312.4 L88.5 310.0 L89.0 307.7 L89.5 305.5 L90.0 303.6 L90.5 302.0 L91.0 300.7 L91.5 299.8 L92.0 299.3 L92.5 299.2 L93.0 299.6 L93.5 300.5 L94.0 301.7 L94.5 303.2 L95.0 305.1 L95.5 307.2 L96.0 309.5 L96.5 311.9 L97.0 314.3 L97.5 316.7 L98.0 319.1 L98.5 321.3 L99.0 323.4 L99.5 325.3 L100.0 327.1 L100.5 328.6 L101.0 329.9 L101.5 331.1 L102.0 332.0 L102.5 332.8 L107.0 333.3 L107.5 333.1 L108.0 332.8 L108.5 332.5 L109.0 332.1 L109.5 331.7 L110.0 331.2 L110.5 330.7 L111.0 330.1 L111.5 329.5 L112.0 328.9 L112.5 328.2 L113.0 327.5 L113.5 326.7 L114.0 326.0 L114.5 325.2 L115.0 324.5 L115.5 323.7 L116.0 323.0 L116.5 322.4 L117.0 321.8 L117.5 321.3 L118.0 320.9 L118.5 320.6 L119.0 320.3 L119.5 320.2 L120.0 320.2 L120.5 320.3 L121.0 320.5 L121.5 320.8 L122.0 321.2 L122.5 321.7 L123.0 322.3 L123.5 322.9 L124.0 323.6 L124.5 324.3 L125.0 325.1 L125.5 325.8 L126.0 326.6 L126.5 327.3 L127.0 328.0 L127.5 328.7 L128.0 329.4 L128.5 330.0 L129.0 330.6 L129.5 331.1 L130.0 331.6 L130.5 332.0 L131.0 332.4 L131.5 332.7 L132.0 333.0 L132.5 333.3" stroke="#000" stroke-width="1.9" fill="none" stroke-linejoin="round"/>
<path d="M77.0 279.3V333.6H134.9" stroke="#000" stroke-width="1.3" fill="none" stroke-linejoin="miter"/>
<text x="86.9" y="273.0" class="s ls" font-size="10" textLength="26.3" lengthAdjust="spacingAndGlyphs">Y376N</text>
<path d="M142.8 326.8h-1.7" stroke="#000" stroke-width="0.6"/>
<path d="M142.8 320.0h-1.7" stroke="#000" stroke-width="0.6"/>
<path d="M142.8 313.2h-1.7" stroke="#000" stroke-width="0.6"/>
<path d="M142.8 306.5h-1.7" stroke="#000" stroke-width="0.6"/>
<path d="M142.8 299.7h-1.7" stroke="#000" stroke-width="0.6"/>
<path d="M142.8 292.9h-1.7" stroke="#000" stroke-width="0.6"/>
<path d="M142.8 286.1h-1.7" stroke="#000" stroke-width="0.6"/>
<path d="M142.8 279.3h-1.7" stroke="#000" stroke-width="0.6"/>
<path d="M156.0 333.6v1.6" stroke="#000" stroke-width="0.7"/>
<path d="M169.2 333.6v1.6" stroke="#000" stroke-width="0.7"/>
<path d="M182.3 333.6v1.6" stroke="#000" stroke-width="0.7"/>
<path d="M143.3 333.6 L143.8 333.6 L144.3 333.6 L144.8 333.6 L145.3 333.6 L145.8 333.6 L146.3 333.6 L146.8 333.5 L147.3 333.5 L147.8 333.4 L148.3 333.3 L148.8 333.1 L149.3 332.9 L149.8 332.6 L150.3 332.1 L150.8 331.5 L151.3 330.6 L151.8 329.5 L152.3 328.1 L152.8 326.4 L153.3 324.2 L153.8 321.7 L154.3 318.7 L154.8 315.2 L155.3 311.4 L155.8 307.3 L156.3 303.0 L156.8 298.7 L157.3 294.4 L157.8 290.4 L158.3 286.9 L158.8 284.0 L159.3 281.9 L159.8 280.6 L160.3 280.3 L160.8 281.0 L161.3 282.6 L161.8 285.1 L162.3 288.2 L162.8 292.0 L163.3 296.1 L163.8 300.4 L164.3 304.8 L164.8 309.0 L165.3 313.0 L165.8 316.6 L166.3 319.9 L166.8 322.7 L167.3 325.1 L167.8 327.1 L168.3 328.7 L168.8 330.0 L169.3 331.0 L169.8 331.8 L170.3 332.3 L170.8 332.7 L171.3 333.0 L171.8 333.2 L172.3 333.3 L172.8 333.4 L173.3 333.5 L173.8 333.5 L174.3 333.6 L174.8 333.6" stroke="#1a1a1a" stroke-width="1.05" stroke-dasharray="3 1.8" fill="none"/>
<path d="M143.3 333.6 L143.8 333.6 L144.3 333.6 L144.8 333.6 L145.3 333.6 L145.8 333.6 L146.3 333.6 L146.8 333.6 L147.3 333.6 L147.8 333.6 L148.3 333.6 L148.8 333.6 L149.3 333.6 L149.8 333.5 L150.3 333.5 L150.8 333.4 L151.3 333.4 L151.8 333.2 L152.3 333.1 L152.8 332.8 L153.3 332.5 L153.8 332.1 L154.3 331.5 L154.8 330.7 L155.3 329.7 L155.8 328.4 L156.3 326.9 L156.8 325.0 L157.3 322.7 L157.8 320.1 L158.3 317.0 L158.8 313.6 L159.3 309.9 L159.8 306.0 L160.3 301.8 L160.8 297.7 L161.3 293.6 L161.8 289.7 L162.3 286.2 L162.8 283.3 L163.3 280.9 L163.8 279.3 L164.3 278.6 L164.8 278.7 L165.3 279.6 L165.8 281.3 L166.3 283.8 L166.8 286.9 L167.3 290.5 L167.8 294.4 L168.3 298.5 L168.8 302.7 L169.3 306.8 L169.8 310.7 L170.3 314.3 L170.8 317.7 L171.3 320.6 L171.8 323.2 L172.3 325.4 L172.8 327.2 L173.3 328.7 L173.8 329.9 L174.3 330.9 L174.8 331.6 L175.3 332.2 L175.8 332.6 L176.3 332.9 L176.8 333.1 L177.3 333.3 L177.8 333.4 L178.3 333.5 L178.8 333.5 L179.3 333.5 L179.8 333.6 L180.3 333.6" stroke="#1a1a1a" stroke-width="1.0" fill="none"/>
<path d="M151.3 333.2 L151.8 332.5 L152.3 331.7 L152.8 330.7 L153.3 329.5 L153.8 328.1 L154.3 326.5 L154.8 324.8 L155.3 322.9 L155.8 320.9 L156.3 318.7 L156.8 316.5 L157.3 314.3 L157.8 312.2 L158.3 310.2 L158.8 308.5 L159.3 307.0 L159.8 305.8 L160.3 305.0 L160.8 304.6 L161.3 304.7 L161.8 305.1 L162.3 306.0 L162.8 307.2 L163.3 308.8 L163.8 310.6 L164.3 312.6 L164.8 314.8 L165.3 317.0 L165.8 319.1 L166.3 321.3 L166.8 323.3 L167.3 325.2 L167.8 326.9 L168.3 328.4 L168.8 329.7 L169.3 330.9 L169.8 331.8 L170.3 332.6 L170.8 332.9 L171.3 332.9 L171.8 332.4 L172.3 331.9 L172.8 331.4 L173.3 330.7 L173.8 330.0 L174.3 329.1 L174.8 328.3 L175.3 327.3 L175.8 326.2 L176.3 325.1 L176.8 324.0 L177.3 322.8 L177.8 321.6 L178.3 320.4 L178.8 319.2 L179.3 318.0 L179.8 316.9 L180.3 315.9 L180.8 315.1 L181.3 314.3 L181.8 313.7 L182.3 313.3 L182.8 313.0 L183.3 312.9 L183.8 313.0 L184.3 313.3 L184.8 313.7 L185.3 314.3 L185.8 315.1 L186.3 315.9 L186.8 316.9 L187.3 318.0 L187.8 319.2 L188.3 320.4 L188.8 321.6 L189.3 322.8 L189.8 324.0 L190.3 325.1 L190.8 326.2 L191.3 327.3 L191.8 328.3 L192.3 329.1 L192.8 330.0 L193.3 330.7 L193.8 331.4 L194.3 331.9 L194.8 332.4 L195.3 332.9 L195.8 333.3" stroke="#000" stroke-width="1.9" fill="none" stroke-linejoin="round"/>
<path d="M142.8 279.3V333.6H199.5" stroke="#000" stroke-width="1.3" fill="none" stroke-linejoin="miter"/>
<text x="151.0" y="273.0" class="s ls" font-size="10" textLength="29.6" lengthAdjust="spacingAndGlyphs">W383R</text>
<path d="M207.8 326.8h-1.7" stroke="#000" stroke-width="0.6"/>
<path d="M207.8 320.0h-1.7" stroke="#000" stroke-width="0.6"/>
<path d="M207.8 313.2h-1.7" stroke="#000" stroke-width="0.6"/>
<path d="M207.8 306.5h-1.7" stroke="#000" stroke-width="0.6"/>
<path d="M207.8 299.7h-1.7" stroke="#000" stroke-width="0.6"/>
<path d="M207.8 292.9h-1.7" stroke="#000" stroke-width="0.6"/>
<path d="M207.8 286.1h-1.7" stroke="#000" stroke-width="0.6"/>
<path d="M207.8 279.3h-1.7" stroke="#000" stroke-width="0.6"/>
<path d="M220.8 333.6v1.6" stroke="#000" stroke-width="0.7"/>
<path d="M233.8 333.6v1.6" stroke="#000" stroke-width="0.7"/>
<path d="M246.8 333.6v1.6" stroke="#000" stroke-width="0.7"/>
<path d="M208.3 333.2 L208.8 333.1 L209.3 332.8 L209.8 332.5 L210.3 332.1 L210.8 331.5 L211.3 330.8 L211.8 329.9 L212.3 328.8 L212.8 327.4 L213.3 325.7 L213.8 323.7 L214.3 321.4 L214.8 318.7 L215.3 315.8 L215.8 312.6 L216.3 309.2 L216.8 305.7 L217.3 302.1 L217.8 298.6 L218.3 295.3 L218.8 292.2 L219.3 289.6 L219.8 287.6 L220.3 286.1 L220.8 285.3 L221.3 285.3 L221.8 285.9 L222.3 287.2 L222.8 289.2 L223.3 291.7 L223.8 294.6 L224.3 297.9 L224.8 301.4 L225.3 305.0 L225.8 308.5 L226.3 311.9 L226.8 315.2 L227.3 318.2 L227.8 320.9 L228.3 323.2 L228.8 325.3 L229.3 327.0 L229.8 328.5 L230.3 329.7 L230.8 330.7 L231.3 331.4 L231.8 332.0 L232.3 332.4 L232.8 332.8 L233.3 333.0 L233.8 333.2 L234.3 333.3 L234.8 333.4 L235.3 333.5 L235.8 333.5 L236.3 333.5 L236.8 333.6 L237.3 333.6" stroke="#1a1a1a" stroke-width="1.05" stroke-dasharray="3 1.8" fill="none"/>
<path d="M208.3 333.6 L208.8 333.6 L209.3 333.6 L209.8 333.6 L210.3 333.6 L210.8 333.6 L211.3 333.6 L211.8 333.6 L212.3 333.6 L212.8 333.6 L213.3 333.5 L213.8 333.5 L214.3 333.5 L214.8 333.4 L215.3 333.4 L215.8 333.3 L216.3 333.2 L216.8 333.1 L217.3 332.9 L217.8 332.7 L218.3 332.4 L218.8 332.0 L219.3 331.6 L219.8 331.1 L220.3 330.4 L220.8 329.6 L221.3 328.7 L221.8 327.7 L222.3 326.4 L222.8 325.0 L223.3 323.4 L223.8 321.6 L224.3 319.7 L224.8 317.6 L225.3 315.3 L225.8 313.0 L226.3 310.5 L226.8 308.0 L227.3 305.5 L227.8 303.1 L228.3 300.7 L228.8 298.5 L229.3 296.5 L229.8 294.8 L230.3 293.4 L230.8 292.4 L231.3 291.7 L231.8 291.4 L232.3 291.5 L232.8 292.1 L233.3 293.0 L233.8 294.2 L234.3 295.8 L234.8 297.7 L235.3 299.8 L235.8 302.1 L236.3 304.5 L236.8 307.0 L237.3 309.5 L237.8 312.0 L238.3 314.4 L238.8 316.7 L239.3 318.9 L239.8 320.9 L240.3 322.7 L240.8 324.4 L241.3 325.9 L241.8 327.2 L242.3 328.3 L242.8 329.3 L243.3 330.1 L243.8 330.8 L244.3 331.4 L244.8 331.9 L245.3 332.3 L245.8 332.6 L246.3 332.8 L246.8 333.0 L247.3 333.2 L247.8 333.3 L248.3 333.4 L248.8 333.4 L249.3 333.5 L249.8 333.5 L250.3 333.5 L250.8 333.6 L251.3 333.6 L251.8 333.6 L252.3 333.6" stroke="#1a1a1a" stroke-width="1.0" fill="none"/>
<path d="M210.3 333.1 L210.8 332.4 L211.3 331.5 L211.8 330.5 L212.3 329.3 L212.8 328.0 L213.3 326.4 L213.8 324.7 L214.3 322.8 L214.8 320.8 L215.3 318.6 L215.8 316.3 L216.3 314.0 L216.8 311.6 L217.3 309.2 L217.8 307.0 L218.3 304.8 L218.8 302.9 L219.3 301.2 L219.8 299.8 L220.3 298.8 L220.8 298.1 L221.3 297.8 L221.8 297.9 L222.3 298.5 L222.8 299.4 L223.3 300.6 L223.8 302.2 L224.3 304.0 L224.8 306.1 L225.3 308.3 L225.8 310.6 L226.3 313.0 L226.8 315.4 L227.3 317.7 L227.8 319.9 L228.3 322.0 L228.8 324.0 L229.3 325.8 L229.8 327.4 L230.3 328.8 L230.8 330.1 L231.3 331.1 L231.8 332.1 L232.3 332.8 L238.8 333.3 L239.3 333.0 L239.8 332.7 L240.3 332.4 L240.8 332.0 L241.3 331.5 L241.8 331.0 L242.3 330.4 L242.8 329.8 L243.3 329.1 L243.8 328.4 L244.3 327.7 L244.8 326.9 L245.3 326.2 L245.8 325.4 L246.3 324.7 L246.8 324.1 L247.3 323.5 L247.8 323.0 L248.3 322.6 L248.8 322.3 L249.3 322.1 L249.8 322.1 L250.3 322.2 L250.8 322.4 L251.3 322.7 L251.8 323.2 L252.3 323.7 L252.8 324.3 L253.3 325.0 L253.8 325.7 L254.3 326.5 L254.8 327.2 L255.3 328.0 L255.8 328.7 L256.3 329.4 L256.8 330.1 L257.3 330.7 L257.8 331.2 L258.3 331.7 L258.8 332.2 L259.3 332.5 L259.8 332.9 L260.3 333.2 L260.8 333.4" stroke="#000" stroke-width="1.9" fill="none" stroke-linejoin="round"/>
<path d="M207.8 279.3V333.6H263.7" stroke="#000" stroke-width="1.3" fill="none" stroke-linejoin="miter"/>
<text x="217.9" y="273.0" class="s ls" font-size="10" textLength="25.7" lengthAdjust="spacingAndGlyphs">L399P</text>
<path d="M272.3 326.8h-1.7" stroke="#000" stroke-width="0.6"/>
<path d="M272.3 320.0h-1.7" stroke="#000" stroke-width="0.6"/>
<path d="M272.3 313.2h-1.7" stroke="#000" stroke-width="0.6"/>
<path d="M272.3 306.5h-1.7" stroke="#000" stroke-width="0.6"/>
<path d="M272.3 299.7h-1.7" stroke="#000" stroke-width="0.6"/>
<path d="M272.3 292.9h-1.7" stroke="#000" stroke-width="0.6"/>
<path d="M272.3 286.1h-1.7" stroke="#000" stroke-width="0.6"/>
<path d="M272.3 279.3h-1.7" stroke="#000" stroke-width="0.6"/>
<path d="M285.5 333.6v1.6" stroke="#000" stroke-width="0.7"/>
<path d="M298.7 333.6v1.6" stroke="#000" stroke-width="0.7"/>
<path d="M311.9 333.6v1.6" stroke="#000" stroke-width="0.7"/>
<path d="M272.8 333.6 L273.3 333.6 L273.8 333.6 L274.3 333.5 L274.8 333.5 L275.3 333.4 L275.8 333.3 L276.3 333.2 L276.8 333.0 L277.3 332.7 L277.8 332.3 L278.3 331.7 L278.8 331.0 L279.3 330.1 L279.8 328.9 L280.3 327.5 L280.8 325.7 L281.3 323.5 L281.8 320.9 L282.3 318.0 L282.8 314.7 L283.3 311.1 L283.8 307.2 L284.3 303.1 L284.8 299.0 L285.3 295.0 L285.8 291.2 L286.3 287.8 L286.8 284.9 L287.3 282.7 L287.8 281.2 L288.3 280.6 L288.8 280.9 L289.3 282.0 L289.8 283.9 L290.3 286.5 L290.8 289.7 L291.3 293.4 L291.8 297.4 L292.3 301.5 L292.8 305.6 L293.3 309.5 L293.8 313.3 L294.3 316.7 L294.8 319.8 L295.3 322.5 L295.8 324.8 L296.3 326.8 L296.8 328.4 L297.3 329.7 L297.8 330.7 L298.3 331.5 L298.8 332.1 L299.3 332.5 L299.8 332.9 L300.3 333.1 L300.8 333.3 L301.3 333.4 L301.8 333.5 L302.3 333.5 L302.8 333.5 L303.3 333.6 L303.8 333.6" stroke="#1a1a1a" stroke-width="1.05" stroke-dasharray="3 1.8" fill="none"/>
<path d="M272.8 333.4 L273.3 333.4 L273.8 333.3 L274.3 333.3 L274.8 333.2 L275.3 333.1 L275.8 333.0 L276.3 332.8 L276.8 332.7 L277.3 332.5 L277.8 332.3 L278.3 332.0 L278.8 331.7 L279.3 331.4 L279.8 331.0 L280.3 330.6 L280.8 330.2 L281.3 329.7 L281.8 329.2 L282.3 328.7 L282.8 328.1 L283.3 327.5 L283.8 326.9 L284.3 326.2 L284.8 325.5 L285.3 324.8 L285.8 324.1 L286.3 323.3 L286.8 322.6 L287.3 321.8 L287.8 321.0 L288.3 320.1 L288.8 319.3 L289.3 318.4 L289.8 317.4 L290.3 316.4 L290.8 315.4 L291.3 314.3 L291.8 313.2 L292.3 312.0 L292.8 310.7 L293.3 309.4 L293.8 308.1 L294.3 306.8 L294.8 305.4 L295.3 304.1 L295.8 302.8 L296.3 301.5 L296.8 300.3 L297.3 299.2 L297.8 298.3 L298.3 297.5 L298.8 296.8 L299.3 296.4 L299.8 296.1 L300.3 296.1 L300.8 296.3 L301.3 296.7 L301.8 297.3 L302.3 298.1 L302.8 299.2 L303.3 300.4 L303.8 301.8 L304.3 303.3 L304.8 305.0 L305.3 306.7 L305.8 308.5 L306.3 310.4 L306.8 312.2 L307.3 314.1 L307.8 315.9 L308.3 317.6 L308.8 319.3 L309.3 320.9 L309.8 322.4 L310.3 323.8 L310.8 325.0 L311.3 326.2 L311.8 327.2 L312.3 328.2 L312.8 329.0 L313.3 329.7 L313.8 330.4 L314.3 330.9 L314.8 331.4 L315.3 331.8 L315.8 332.1 L316.3 332.4 L316.8 332.7 L317.3 332.8 L317.8 333.0 L318.3 333.1 L318.8 333.2 L319.3 333.3 L319.8 333.4 L320.3 333.4 L320.8 333.5 L321.3 333.5 L321.8 333.5 L322.3 333.5 L322.8 333.6 L323.3 333.6 L323.8 333.6 L324.3 333.6" stroke="#1a1a1a" stroke-width="1.0" fill="none"/>
<path d="M277.3 332.8 L277.8 332.0 L278.3 331.1 L278.8 330.0 L279.3 328.7 L279.8 327.3 L280.3 325.7 L280.8 323.9 L281.3 322.0 L281.8 319.9 L282.3 317.7 L282.8 315.4 L283.3 313.1 L283.8 310.8 L284.3 308.6 L284.8 306.5 L285.3 304.5 L285.8 302.9 L286.3 301.5 L286.8 300.5 L287.3 299.8 L287.8 299.5 L288.3 299.6 L288.8 300.1 L289.3 301.0 L289.8 302.3 L290.3 303.8 L290.8 305.7 L291.3 307.7 L291.8 309.9 L292.3 312.2 L292.8 314.5 L293.3 316.8 L293.8 319.0 L294.3 321.1 L294.8 323.1 L295.3 325.0 L295.8 326.7 L296.3 328.2 L296.8 329.5 L297.3 330.7 L297.8 331.6 L298.3 332.5 L298.8 333.2 L302.8 333.3 L303.3 333.0 L303.8 332.8 L304.3 332.4 L304.8 332.0 L305.3 331.6 L305.8 331.1 L306.3 330.6 L306.8 330.0 L307.3 329.4 L307.8 328.7 L308.3 328.0 L308.8 327.2 L309.3 326.5 L309.8 325.7 L310.3 324.9 L310.8 324.1 L311.3 323.4 L311.8 322.6 L312.3 322.0 L312.8 321.4 L313.3 320.9 L313.8 320.4 L314.3 320.1 L314.8 319.8 L315.3 319.7 L315.8 319.7 L316.3 319.8 L316.8 320.0 L317.3 320.3 L317.8 320.8 L318.3 321.3 L318.8 321.9 L319.3 322.5 L319.8 323.2 L320.3 324.0 L320.8 324.7 L321.3 325.5 L321.8 326.3 L322.3 327.1 L322.8 327.8 L323.3 328.5 L323.8 329.2 L324.3 329.9 L324.8 330.5 L325.3 331.0 L325.8 331.5 L326.3 331.9 L326.8 332.3 L327.3 332.7 L327.8 333.0" stroke="#000" stroke-width="1.9" fill="none" stroke-linejoin="round"/>
<path d="M272.3 279.3V333.6H329.1" stroke="#000" stroke-width="1.3" fill="none" stroke-linejoin="miter"/>
<text x="283.9" y="273.0" class="s ls" font-size="10" textLength="26.1" lengthAdjust="spacingAndGlyphs">L445Q</text>
<path d="M339.2 326.8h-1.7" stroke="#000" stroke-width="0.6"/>
<path d="M339.2 320.0h-1.7" stroke="#000" stroke-width="0.6"/>
<path d="M339.2 313.2h-1.7" stroke="#000" stroke-width="0.6"/>
<path d="M339.2 306.5h-1.7" stroke="#000" stroke-width="0.6"/>
<path d="M339.2 299.7h-1.7" stroke="#000" stroke-width="0.6"/>
<path d="M339.2 292.9h-1.7" stroke="#000" stroke-width="0.6"/>
<path d="M339.2 286.1h-1.7" stroke="#000" stroke-width="0.6"/>
<path d="M339.2 279.3h-1.7" stroke="#000" stroke-width="0.6"/>
<path d="M352.3 333.6v1.6" stroke="#000" stroke-width="0.7"/>
<path d="M365.4 333.6v1.6" stroke="#000" stroke-width="0.7"/>
<path d="M378.5 333.6v1.6" stroke="#000" stroke-width="0.7"/>
<path d="M339.7 333.6 L340.2 333.5 L340.7 333.5 L341.2 333.4 L341.7 333.4 L342.2 333.3 L342.7 333.1 L343.2 332.9 L343.7 332.7 L344.2 332.4 L344.7 331.9 L345.2 331.4 L345.7 330.7 L346.2 329.8 L346.7 328.8 L347.2 327.5 L347.7 325.9 L348.2 324.1 L348.7 322.0 L349.2 319.7 L349.7 317.0 L350.2 314.1 L350.7 311.0 L351.2 307.7 L351.7 304.2 L352.2 300.7 L352.7 297.3 L353.2 293.9 L353.7 290.8 L354.2 288.1 L354.7 285.7 L355.2 283.8 L355.7 282.5 L356.2 281.8 L356.7 281.8 L357.2 282.3 L357.7 283.5 L358.2 285.3 L358.7 287.5 L359.2 290.2 L359.7 293.3 L360.2 296.6 L360.7 300.0 L361.2 303.5 L361.7 307.0 L362.2 310.3 L362.7 313.5 L363.2 316.5 L363.7 319.2 L364.2 321.6 L364.7 323.7 L365.2 325.6 L365.7 327.2 L366.2 328.5 L366.7 329.6 L367.2 330.5 L367.7 331.3 L368.2 331.8 L368.7 332.3 L369.2 332.6 L369.7 332.9 L370.2 333.1 L370.7 333.2 L371.2 333.3 L371.7 333.4 L372.2 333.5 L372.7 333.5 L373.2 333.5 L373.7 333.6 L374.2 333.6" stroke="#1a1a1a" stroke-width="1.05" stroke-dasharray="3 1.8" fill="none"/>
<path d="M339.7 333.6 L340.2 333.6 L340.7 333.6 L341.2 333.6 L341.7 333.6 L342.2 333.6 L342.7 333.6 L343.2 333.6 L343.7 333.6 L344.2 333.6 L344.7 333.6 L345.2 333.6 L345.7 333.6 L346.2 333.6 L346.7 333.6 L347.2 333.6 L347.7 333.6 L348.2 333.6 L348.7 333.6 L349.2 333.6 L349.7 333.6 L350.2 333.5 L350.7 333.5 L351.2 333.4 L351.7 333.3 L352.2 333.2 L352.7 333.0 L353.2 332.8 L353.7 332.5 L354.2 332.0 L354.7 331.4 L355.2 330.7 L355.7 329.7 L356.2 328.5 L356.7 327.0 L357.2 325.2 L357.7 323.1 L358.2 320.7 L358.7 317.9 L359.2 314.9 L359.7 311.6 L360.2 308.2 L360.7 304.7 L361.2 301.2 L361.7 297.8 L362.2 294.8 L362.7 292.1 L363.2 289.9 L363.7 288.3 L364.2 287.3 L364.7 287.1 L365.2 287.6 L365.7 288.8 L366.2 290.7 L366.7 293.1 L367.2 296.0 L367.7 299.2 L368.2 302.6 L368.7 306.1 L369.2 309.6 L369.7 313.0 L370.2 316.1 L370.7 319.1 L371.2 321.7 L371.7 324.0 L372.2 326.0 L372.7 327.6 L373.2 329.0 L373.7 330.1 L374.2 331.0 L374.7 331.7 L375.2 332.2 L375.7 332.6 L376.2 332.9 L376.7 333.1 L377.2 333.3 L377.7 333.4 L378.2 333.5 L378.7 333.5 L379.2 333.5 L379.7 333.6 L380.2 333.6" stroke="#1a1a1a" stroke-width="1.0" fill="none"/>
<path d="M349.7 332.8 L350.2 331.9 L350.7 330.8 L351.2 329.6 L351.7 328.1 L352.2 326.3 L352.7 324.4 L353.2 322.2 L353.7 319.9 L354.2 317.4 L354.7 314.9 L355.2 312.4 L355.7 310.0 L356.2 307.8 L356.7 305.8 L357.2 304.1 L357.7 302.9 L358.2 302.2 L358.7 301.9 L359.2 302.2 L359.7 302.9 L360.2 304.1 L360.7 305.8 L361.2 307.8 L361.7 310.0 L362.2 312.4 L362.7 314.9 L363.2 317.4 L363.7 319.9 L364.2 322.2 L364.7 324.4 L365.2 326.3 L365.7 328.1 L366.2 329.6 L366.7 330.8 L367.2 331.6 L367.7 332.1 L368.2 332.3 L368.7 331.8 L369.2 331.1 L369.7 330.4 L370.2 329.5 L370.7 328.5 L371.2 327.4 L371.7 326.3 L372.2 325.0 L372.7 323.7 L373.2 322.3 L373.7 320.9 L374.2 319.5 L374.7 318.1 L375.2 316.8 L375.7 315.5 L376.2 314.4 L376.7 313.4 L377.2 312.6 L377.7 311.9 L378.2 311.5 L378.7 311.3 L379.2 311.3 L379.7 311.6 L380.2 312.1 L380.7 312.7 L381.2 313.6 L381.7 314.6 L382.2 315.8 L382.7 317.1 L383.2 318.4 L383.7 319.8 L384.2 321.2 L384.7 322.6 L385.2 324.0 L385.7 325.3 L386.2 326.5 L386.7 327.7 L387.2 328.7 L387.7 329.7 L388.2 330.5 L388.7 331.3 L389.2 331.9 L389.7 332.5 L390.2 333.0 L390.7 333.4" stroke="#000" stroke-width="1.9" fill="none" stroke-linejoin="round"/>
<path d="M339.2 279.3V333.6H395.5" stroke="#000" stroke-width="1.3" fill="none" stroke-linejoin="miter"/>
<text x="349.8" y="273.0" class="s ls" font-size="10" textLength="25.5" lengthAdjust="spacingAndGlyphs">R461C</text>
<path d="M403.3 326.8h-1.7" stroke="#000" stroke-width="0.6"/>
<path d="M403.3 320.0h-1.7" stroke="#000" stroke-width="0.6"/>
<path d="M403.3 313.2h-1.7" stroke="#000" stroke-width="0.6"/>
<path d="M403.3 306.5h-1.7" stroke="#000" stroke-width="0.6"/>
<path d="M403.3 299.7h-1.7" stroke="#000" stroke-width="0.6"/>
<path d="M403.3 292.9h-1.7" stroke="#000" stroke-width="0.6"/>
<path d="M403.3 286.1h-1.7" stroke="#000" stroke-width="0.6"/>
<path d="M403.3 279.3h-1.7" stroke="#000" stroke-width="0.6"/>
<path d="M416.6 333.6v1.6" stroke="#000" stroke-width="0.7"/>
<path d="M430.0 333.6v1.6" stroke="#000" stroke-width="0.7"/>
<path d="M443.3 333.6v1.6" stroke="#000" stroke-width="0.7"/>
<path d="M403.8 333.0 L404.3 332.8 L404.8 332.5 L405.3 332.1 L405.8 331.6 L406.3 331.0 L406.8 330.2 L407.3 329.2 L407.8 328.0 L408.3 326.6 L408.8 325.0 L409.3 323.1 L409.8 321.0 L410.3 318.6 L410.8 315.9 L411.3 313.1 L411.8 310.1 L412.3 306.9 L412.8 303.8 L413.3 300.6 L413.8 297.6 L414.3 294.8 L414.8 292.3 L415.3 290.1 L415.8 288.4 L416.3 287.2 L416.8 286.6 L417.3 286.5 L417.8 287.1 L418.3 288.1 L418.8 289.7 L419.3 291.8 L419.8 294.3 L420.3 297.0 L420.8 300.0 L421.3 303.1 L421.8 306.3 L422.3 309.4 L422.8 312.5 L423.3 315.4 L423.8 318.1 L424.3 320.5 L424.8 322.7 L425.3 324.6 L425.8 326.3 L426.3 327.8 L426.8 329.0 L427.3 330.0 L427.8 330.8 L428.3 331.5 L428.8 332.0 L429.3 332.4 L429.8 332.7 L430.3 333.0 L430.8 333.1 L431.3 333.3 L431.8 333.4 L432.3 333.4 L432.8 333.5 L433.3 333.5 L433.8 333.6 L434.3 333.6 L434.8 333.6" stroke="#1a1a1a" stroke-width="1.05" stroke-dasharray="3 1.8" fill="none"/>
<path d="M403.8 333.6 L404.3 333.6 L404.8 333.6 L405.3 333.6 L405.8 333.6 L406.3 333.6 L406.8 333.6 L407.3 333.6 L407.8 333.6 L408.3 333.6 L408.8 333.6 L409.3 333.6 L409.8 333.6 L410.3 333.6 L410.8 333.6 L411.3 333.5 L411.8 333.5 L412.3 333.5 L412.8 333.4 L413.3 333.3 L413.8 333.2 L414.3 333.1 L414.8 333.0 L415.3 332.8 L415.8 332.5 L416.3 332.2 L416.8 331.8 L417.3 331.3 L417.8 330.7 L418.3 329.9 L418.8 329.1 L419.3 328.1 L419.8 326.9 L420.3 325.6 L420.8 324.1 L421.3 322.4 L421.8 320.5 L422.3 318.5 L422.8 316.3 L423.3 314.1 L423.8 311.7 L424.3 309.3 L424.8 306.9 L425.3 304.5 L425.8 302.2 L426.3 300.0 L426.8 298.0 L427.3 296.3 L427.8 294.9 L428.3 293.8 L428.8 293.1 L429.3 292.7 L429.8 292.8 L430.3 293.2 L430.8 294.0 L431.3 295.2 L431.8 296.7 L432.3 298.4 L432.8 300.4 L433.3 302.6 L433.8 304.9 L434.3 307.3 L434.8 309.8 L435.3 312.2 L435.8 314.5 L436.3 316.8 L436.8 318.9 L437.3 320.9 L437.8 322.7 L438.3 324.4 L438.8 325.8 L439.3 327.1 L439.8 328.3 L440.3 329.3 L440.8 330.1 L441.3 330.8 L441.8 331.4 L442.3 331.8 L442.8 332.2 L443.3 332.5 L443.8 332.8 L444.3 333.0 L444.8 333.1 L445.3 333.3 L445.8 333.4 L446.3 333.4 L446.8 333.5 L447.3 333.5 L447.8 333.5 L448.3 333.6 L448.8 333.6 L449.3 333.6 L449.8 333.6" stroke="#1a1a1a" stroke-width="1.0" fill="none"/>
<path d="M405.8 332.9 L406.3 332.2 L406.8 331.4 L407.3 330.5 L407.8 329.5 L408.3 328.2 L408.8 326.9 L409.3 325.4 L409.8 323.7 L410.3 321.9 L410.8 320.0 L411.3 318.0 L411.8 316.0 L412.3 313.9 L412.8 311.8 L413.3 309.7 L413.8 307.7 L414.3 305.9 L414.8 304.3 L415.3 302.9 L415.8 301.7 L416.3 300.8 L416.8 300.2 L417.3 300.0 L417.8 300.1 L418.3 300.5 L418.8 301.3 L419.3 302.4 L419.8 303.7 L420.3 305.2 L420.8 307.0 L421.3 308.9 L421.8 310.9 L422.3 313.0 L422.8 315.1 L423.3 317.2 L423.8 319.2 L424.3 321.2 L424.8 323.0 L425.3 324.7 L425.8 326.3 L426.3 327.7 L426.8 329.0 L427.3 330.1 L427.8 331.1 L428.3 331.9 L428.8 332.7 L429.3 333.3 L434.3 333.2 L434.8 332.9 L435.3 332.6 L435.8 332.3 L436.3 331.9 L436.8 331.4 L437.3 330.9 L437.8 330.3 L438.3 329.7 L438.8 329.1 L439.3 328.4 L439.8 327.6 L440.3 326.9 L440.8 326.1 L441.3 325.3 L441.8 324.6 L442.3 323.9 L442.8 323.2 L443.3 322.5 L443.8 322.0 L444.3 321.5 L444.8 321.2 L445.3 320.9 L445.8 320.7 L446.3 320.7 L446.8 320.8 L447.3 321.0 L447.8 321.3 L448.3 321.7 L448.8 322.2 L449.3 322.8 L449.8 323.4 L450.3 324.1 L450.8 324.9 L451.3 325.6 L451.8 326.4 L452.3 327.2 L452.8 327.9 L453.3 328.6 L453.8 329.3 L454.3 330.0 L454.8 330.6 L455.3 331.1 L455.8 331.6 L456.3 332.0 L456.8 332.4 L457.3 332.8 L457.8 333.1 L458.3 333.3" stroke="#000" stroke-width="1.9" fill="none" stroke-linejoin="round"/>
<path d="M403.3 279.3V333.6H460.7" stroke="#000" stroke-width="1.3" fill="none" stroke-linejoin="miter"/>
<text x="417.1" y="273.0" class="s ls" font-size="10" textLength="26.9" lengthAdjust="spacingAndGlyphs">H544R</text>
<text transform="translate(32.0 322.2) rotate(-90)" class="s" font-size="13.8" textLength="68.7" lengthAdjust="spacingAndGlyphs">Cell number</text>
<path d="M28.8 243.4V216" stroke="#111" stroke-width="1.25"/><path d="M28.8 211.8L24.7 220.6L28.8 218.2L32.9 220.6Z" fill="#000"/>
<text x="214.4" y="352" class="s" font-size="13.4" textLength="70.8" lengthAdjust="spacing">Fluorescence</text>
<path d="M293.8 348.3H323" stroke="#111" stroke-width="1.25"/><path d="M327.6 348.3L318.8 344.2L321.2 348.3L318.8 352.4Z" fill="#000"/>
</svg>
</body></html>
